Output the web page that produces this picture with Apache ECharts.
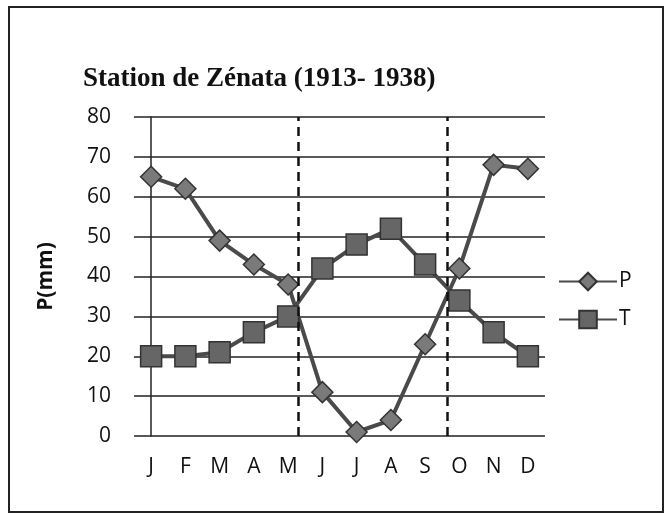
<!DOCTYPE html>
<html>

<head>
    <meta charset="utf-8" />
    <script src="https://cdn.jsdelivr.net/npm/echarts@6/dist/echarts.min.js"></script>
    <style>
        body { margin: 0; background: #fff; }
    </style>
</head>

<body>
    <div id="main" style="width:670px;height:514px;"></div>
    <script>
        // months
        var months = ['J', 'F', 'M', 'A', 'M', 'J', 'J', 'A', 'S', 'O', 'N', 'D'];
        // precipitation (mm)
        var pData = [65, 62, 49, 43, 38, 11, 1, 4, 23, 42, 68, 67];
        // temperature (x2 scale)
        var tData = [20, 20, 21, 26, 30, 42, 48, 52, 43, 34, 26, 20];
        // dry season bounds, in month index units
        var dryBounds = [4.3, 8.65];

        var myChart = echarts.init(document.getElementById('main'));

        var option = {
            animation: false,
            title: {
                text: 'Station de Zénata (1913- 1938)',
                left: 78,
                top: 61,
                textStyle: {
                    fontFamily: 'Liberation Serif',
                    fontWeight: 'bold',
                    fontSize: 27,
                    color: '#111'
                }
            },
            graphic: [{
                type: 'rect',
                shape: { x: 9, y: 7, width: 654, height: 505 },
                style: { fill: 'none', stroke: '#222', lineWidth: 2 }
            }],
            grid: {
                left: 134,
                right: 125,
                top: 117,
                bottom: 78
            },
            legend: {
                orient: 'vertical',
                left: 553,
                top: 266,
                itemGap: 17,
                itemWidth: 58,
                itemHeight: 22,
                itemStyle: {},
                textStyle: { fontFamily: 'Open Sans', fontSize: 21, color: '#111', padding: [0, 0, 0, -3] },
                data: ['P', 'T']
            },
            xAxis: [{
                type: 'category',
                data: months,
                axisLine: { show: false },
                axisTick: { show: false },
                axisLabel: {
                    margin: 21,
                    fontFamily: 'Open Sans',
                    fontSize: 21,
                    color: '#111'
                }
            }, {
                type: 'value',
                min: -0.5,
                max: 11.5,
                show: false
            }],
            yAxis: {
                type: 'value',
                min: 0,
                max: 80,
                interval: 10,
                name: 'P(mm)',
                nameLocation: 'middle',
                nameGap: 77,
                nameTextStyle: {
                    fontFamily: 'Open Sans',
                    fontWeight: 'bold',
                    fontSize: 21,
                    color: '#111'
                },
                axisLine: { show: true, lineStyle: { color: '#222', width: 1.5 } },
                axisTick: { show: false },
                axisLabel: {
                    margin: 23,
                    fontFamily: 'Open Sans',
                    fontSize: 21,
                    color: '#111'
                },
                splitLine: { lineStyle: { color: '#222', width: 1.5 } }
            },
            series: [
                {
                    name: 'P',
                    type: 'line',
                    data: pData,
                    symbol: 'diamond',
                    symbolSize: 21,
                    lineStyle: { color: '#4a4a4a', width: 4 },
                    itemStyle: { color: '#7a7a7a', borderColor: '#333', borderWidth: 1.5 },
                    z: 3
                },
                {
                    name: 'T',
                    type: 'line',
                    data: tData,
                    symbol: 'rect',
                    symbolSize: 21,
                    lineStyle: { color: '#4a4a4a', width: 4 },
                    itemStyle: { color: '#666', borderColor: '#333', borderWidth: 1.5 },
                    z: 4
                },
                {
                    name: 'dry',
                    type: 'line',
                    xAxisIndex: 1,
                    data: [],
                    markLine: {
                        silent: true,
                        symbol: ['none', 'none'],
                        label: { show: false },
                        lineStyle: { type: [9, 6], color: '#111', width: 2.5 },
                        data: dryBounds.map(function (v) { return { xAxis: v }; })
                    }
                }
            ]
        };

        myChart.setOption(option);
    </script>
</body>

</html>
